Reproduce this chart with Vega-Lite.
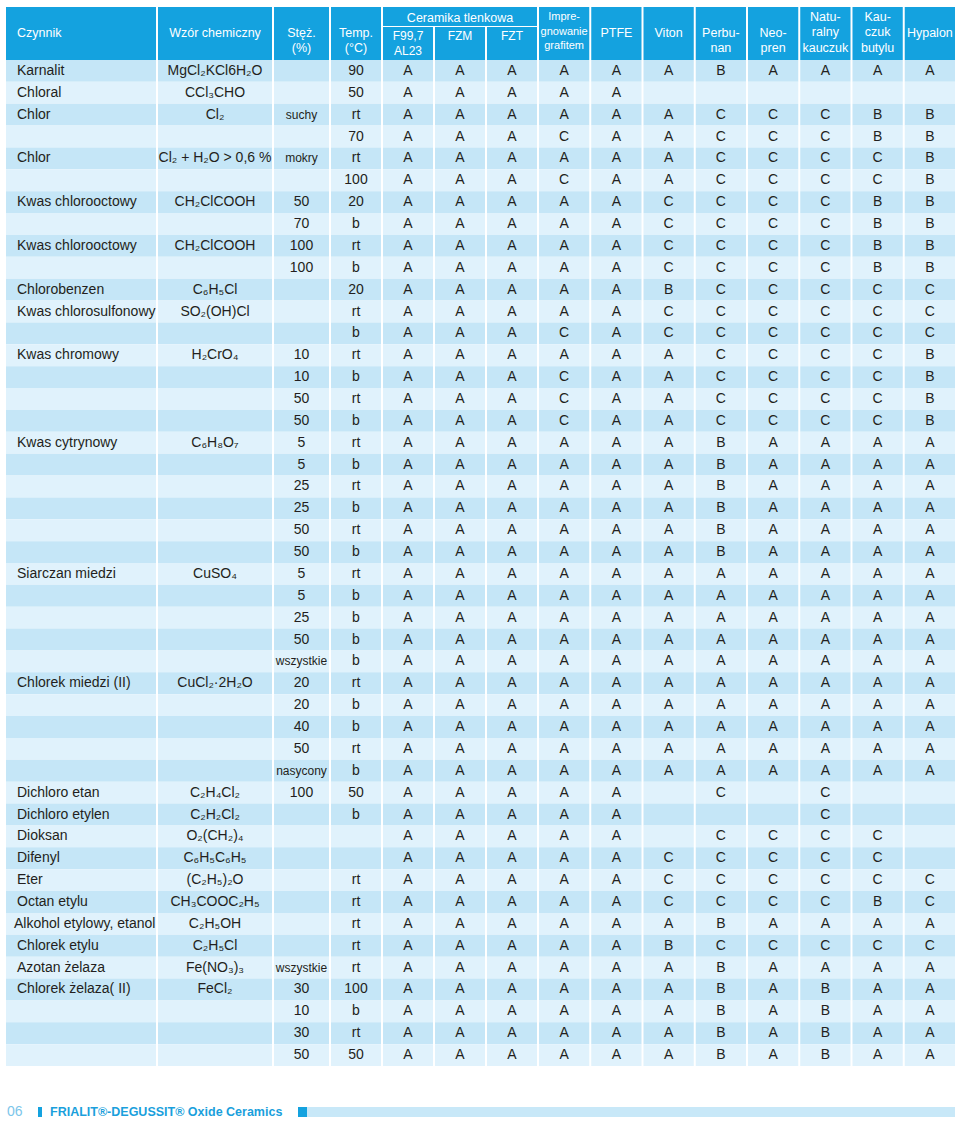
{
  "$schema": "https://vega.github.io/schema/vega-lite/v6.json",
  "background": "white",
  "padding": {"left": 6, "top": 7, "right": 0, "bottom": 0},
  "config": {"font": "Liberation Sans", "view": {"stroke": null}},
  "datasets": {
    "rows": [
      {"id":1,"c":"Karnalit","w":"MgCl₂KCl6H₂O","s":"","t":"90","f99":"A","fzm":"A","fzt":"A","impreg":"A","ptfe":"A","viton":"A","perbunan":"B","neopren":"A","naturalny":"A","kauczuk":"A","hypalon":"A"},
      {"id":2,"c":"Chloral","w":"CCl₃CHO","s":"","t":"50","f99":"A","fzm":"A","fzt":"A","impreg":"A","ptfe":"A","viton":"","perbunan":"","neopren":"","naturalny":"","kauczuk":"","hypalon":""},
      {"id":3,"c":"Chlor","w":"Cl₂","s":"suchy","t":"rt","f99":"A","fzm":"A","fzt":"A","impreg":"A","ptfe":"A","viton":"A","perbunan":"C","neopren":"C","naturalny":"C","kauczuk":"B","hypalon":"B"},
      {"id":4,"c":"","w":"","s":"","t":"70","f99":"A","fzm":"A","fzt":"A","impreg":"C","ptfe":"A","viton":"A","perbunan":"C","neopren":"C","naturalny":"C","kauczuk":"B","hypalon":"B"},
      {"id":5,"c":"Chlor","w":"Cl₂ + H₂O > 0,6 %","s":"mokry","t":"rt","f99":"A","fzm":"A","fzt":"A","impreg":"A","ptfe":"A","viton":"A","perbunan":"C","neopren":"C","naturalny":"C","kauczuk":"C","hypalon":"B"},
      {"id":6,"c":"","w":"","s":"","t":"100","f99":"A","fzm":"A","fzt":"A","impreg":"C","ptfe":"A","viton":"A","perbunan":"C","neopren":"C","naturalny":"C","kauczuk":"C","hypalon":"B"},
      {"id":7,"c":"Kwas chlorooctowy","w":"CH₂ClCOOH","s":"50","t":"20","f99":"A","fzm":"A","fzt":"A","impreg":"A","ptfe":"A","viton":"C","perbunan":"C","neopren":"C","naturalny":"C","kauczuk":"B","hypalon":"B"},
      {"id":8,"c":"","w":"","s":"70","t":"b","f99":"A","fzm":"A","fzt":"A","impreg":"A","ptfe":"A","viton":"C","perbunan":"C","neopren":"C","naturalny":"C","kauczuk":"B","hypalon":"B"},
      {"id":9,"c":"Kwas chlorooctowy","w":"CH₂ClCOOH","s":"100","t":"rt","f99":"A","fzm":"A","fzt":"A","impreg":"A","ptfe":"A","viton":"C","perbunan":"C","neopren":"C","naturalny":"C","kauczuk":"B","hypalon":"B"},
      {"id":10,"c":"","w":"","s":"100","t":"b","f99":"A","fzm":"A","fzt":"A","impreg":"A","ptfe":"A","viton":"C","perbunan":"C","neopren":"C","naturalny":"C","kauczuk":"B","hypalon":"B"},
      {"id":11,"c":"Chlorobenzen","w":"C₆H₅Cl","s":"","t":"20","f99":"A","fzm":"A","fzt":"A","impreg":"A","ptfe":"A","viton":"B","perbunan":"C","neopren":"C","naturalny":"C","kauczuk":"C","hypalon":"C"},
      {"id":12,"c":"Kwas chlorosulfonowy","w":"SO₂(OH)Cl","s":"","t":"rt","f99":"A","fzm":"A","fzt":"A","impreg":"A","ptfe":"A","viton":"C","perbunan":"C","neopren":"C","naturalny":"C","kauczuk":"C","hypalon":"C"},
      {"id":13,"c":"","w":"","s":"","t":"b","f99":"A","fzm":"A","fzt":"A","impreg":"C","ptfe":"A","viton":"C","perbunan":"C","neopren":"C","naturalny":"C","kauczuk":"C","hypalon":"C"},
      {"id":14,"c":"Kwas chromowy","w":"H₂CrO₄","s":"10","t":"rt","f99":"A","fzm":"A","fzt":"A","impreg":"A","ptfe":"A","viton":"A","perbunan":"C","neopren":"C","naturalny":"C","kauczuk":"C","hypalon":"B"},
      {"id":15,"c":"","w":"","s":"10","t":"b","f99":"A","fzm":"A","fzt":"A","impreg":"C","ptfe":"A","viton":"A","perbunan":"C","neopren":"C","naturalny":"C","kauczuk":"C","hypalon":"B"},
      {"id":16,"c":"","w":"","s":"50","t":"rt","f99":"A","fzm":"A","fzt":"A","impreg":"C","ptfe":"A","viton":"A","perbunan":"C","neopren":"C","naturalny":"C","kauczuk":"C","hypalon":"B"},
      {"id":17,"c":"","w":"","s":"50","t":"b","f99":"A","fzm":"A","fzt":"A","impreg":"C","ptfe":"A","viton":"A","perbunan":"C","neopren":"C","naturalny":"C","kauczuk":"C","hypalon":"B"},
      {"id":18,"c":"Kwas cytrynowy","w":"C₆H₈O₇","s":"5","t":"rt","f99":"A","fzm":"A","fzt":"A","impreg":"A","ptfe":"A","viton":"A","perbunan":"B","neopren":"A","naturalny":"A","kauczuk":"A","hypalon":"A"},
      {"id":19,"c":"","w":"","s":"5","t":"b","f99":"A","fzm":"A","fzt":"A","impreg":"A","ptfe":"A","viton":"A","perbunan":"B","neopren":"A","naturalny":"A","kauczuk":"A","hypalon":"A"},
      {"id":20,"c":"","w":"","s":"25","t":"rt","f99":"A","fzm":"A","fzt":"A","impreg":"A","ptfe":"A","viton":"A","perbunan":"B","neopren":"A","naturalny":"A","kauczuk":"A","hypalon":"A"},
      {"id":21,"c":"","w":"","s":"25","t":"b","f99":"A","fzm":"A","fzt":"A","impreg":"A","ptfe":"A","viton":"A","perbunan":"B","neopren":"A","naturalny":"A","kauczuk":"A","hypalon":"A"},
      {"id":22,"c":"","w":"","s":"50","t":"rt","f99":"A","fzm":"A","fzt":"A","impreg":"A","ptfe":"A","viton":"A","perbunan":"B","neopren":"A","naturalny":"A","kauczuk":"A","hypalon":"A"},
      {"id":23,"c":"","w":"","s":"50","t":"b","f99":"A","fzm":"A","fzt":"A","impreg":"A","ptfe":"A","viton":"A","perbunan":"B","neopren":"A","naturalny":"A","kauczuk":"A","hypalon":"A"},
      {"id":24,"c":"Siarczan miedzi","w":"CuSO₄","s":"5","t":"rt","f99":"A","fzm":"A","fzt":"A","impreg":"A","ptfe":"A","viton":"A","perbunan":"A","neopren":"A","naturalny":"A","kauczuk":"A","hypalon":"A"},
      {"id":25,"c":"","w":"","s":"5","t":"b","f99":"A","fzm":"A","fzt":"A","impreg":"A","ptfe":"A","viton":"A","perbunan":"A","neopren":"A","naturalny":"A","kauczuk":"A","hypalon":"A"},
      {"id":26,"c":"","w":"","s":"25","t":"b","f99":"A","fzm":"A","fzt":"A","impreg":"A","ptfe":"A","viton":"A","perbunan":"A","neopren":"A","naturalny":"A","kauczuk":"A","hypalon":"A"},
      {"id":27,"c":"","w":"","s":"50","t":"b","f99":"A","fzm":"A","fzt":"A","impreg":"A","ptfe":"A","viton":"A","perbunan":"A","neopren":"A","naturalny":"A","kauczuk":"A","hypalon":"A"},
      {"id":28,"c":"","w":"","s":"wszystkie","t":"b","f99":"A","fzm":"A","fzt":"A","impreg":"A","ptfe":"A","viton":"A","perbunan":"A","neopren":"A","naturalny":"A","kauczuk":"A","hypalon":"A"},
      {"id":29,"c":"Chlorek miedzi (II)","w":"CuCl₂·2H₂O","s":"20","t":"rt","f99":"A","fzm":"A","fzt":"A","impreg":"A","ptfe":"A","viton":"A","perbunan":"A","neopren":"A","naturalny":"A","kauczuk":"A","hypalon":"A"},
      {"id":30,"c":"","w":"","s":"20","t":"b","f99":"A","fzm":"A","fzt":"A","impreg":"A","ptfe":"A","viton":"A","perbunan":"A","neopren":"A","naturalny":"A","kauczuk":"A","hypalon":"A"},
      {"id":31,"c":"","w":"","s":"40","t":"b","f99":"A","fzm":"A","fzt":"A","impreg":"A","ptfe":"A","viton":"A","perbunan":"A","neopren":"A","naturalny":"A","kauczuk":"A","hypalon":"A"},
      {"id":32,"c":"","w":"","s":"50","t":"rt","f99":"A","fzm":"A","fzt":"A","impreg":"A","ptfe":"A","viton":"A","perbunan":"A","neopren":"A","naturalny":"A","kauczuk":"A","hypalon":"A"},
      {"id":33,"c":"","w":"","s":"nasycony","t":"b","f99":"A","fzm":"A","fzt":"A","impreg":"A","ptfe":"A","viton":"A","perbunan":"A","neopren":"A","naturalny":"A","kauczuk":"A","hypalon":"A"},
      {"id":34,"c":"Dichloro etan","w":"C₂H₄Cl₂","s":"100","t":"50","f99":"A","fzm":"A","fzt":"A","impreg":"A","ptfe":"A","viton":"","perbunan":"C","neopren":"","naturalny":"C","kauczuk":"","hypalon":""},
      {"id":35,"c":"Dichloro etylen","w":"C₂H₂Cl₂","s":"","t":"b","f99":"A","fzm":"A","fzt":"A","impreg":"A","ptfe":"A","viton":"","perbunan":"","neopren":"","naturalny":"C","kauczuk":"","hypalon":""},
      {"id":36,"c":"Dioksan","w":"O₂(CH₂)₄","s":"","t":"","f99":"A","fzm":"A","fzt":"A","impreg":"A","ptfe":"A","viton":"","perbunan":"C","neopren":"C","naturalny":"C","kauczuk":"C","hypalon":""},
      {"id":37,"c":"Difenyl","w":"C₆H₅C₆H₅","s":"","t":"","f99":"A","fzm":"A","fzt":"A","impreg":"A","ptfe":"A","viton":"C","perbunan":"C","neopren":"C","naturalny":"C","kauczuk":"C","hypalon":""},
      {"id":38,"c":"Eter","w":"(C₂H₅)₂O","s":"","t":"rt","f99":"A","fzm":"A","fzt":"A","impreg":"A","ptfe":"A","viton":"C","perbunan":"C","neopren":"C","naturalny":"C","kauczuk":"C","hypalon":"C"},
      {"id":39,"c":"Octan etylu","w":"CH₃COOC₂H₅","s":"","t":"rt","f99":"A","fzm":"A","fzt":"A","impreg":"A","ptfe":"A","viton":"C","perbunan":"C","neopren":"C","naturalny":"C","kauczuk":"B","hypalon":"C"},
      {"id":40,"c":"Alkohol etylowy, etanol","w":"C₂H₅OH","s":"","t":"rt","f99":"A","fzm":"A","fzt":"A","impreg":"A","ptfe":"A","viton":"A","perbunan":"B","neopren":"A","naturalny":"A","kauczuk":"A","hypalon":"A"},
      {"id":41,"c":"Chlorek etylu","w":"C₂H₅Cl","s":"","t":"rt","f99":"A","fzm":"A","fzt":"A","impreg":"A","ptfe":"A","viton":"B","perbunan":"C","neopren":"C","naturalny":"C","kauczuk":"C","hypalon":"C"},
      {"id":42,"c":"Azotan żelaza","w":"Fe(NO₃)₃","s":"wszystkie","t":"rt","f99":"A","fzm":"A","fzt":"A","impreg":"A","ptfe":"A","viton":"A","perbunan":"B","neopren":"A","naturalny":"A","kauczuk":"A","hypalon":"A"},
      {"id":43,"c":"Chlorek żelaza( II)","w":"FeCl₂","s":"30","t":"100","f99":"A","fzm":"A","fzt":"A","impreg":"A","ptfe":"A","viton":"A","perbunan":"B","neopren":"A","naturalny":"B","kauczuk":"A","hypalon":"A"},
      {"id":44,"c":"","w":"","s":"10","t":"b","f99":"A","fzm":"A","fzt":"A","impreg":"A","ptfe":"A","viton":"A","perbunan":"B","neopren":"A","naturalny":"B","kauczuk":"A","hypalon":"A"},
      {"id":45,"c":"","w":"","s":"30","t":"rt","f99":"A","fzm":"A","fzt":"A","impreg":"A","ptfe":"A","viton":"A","perbunan":"B","neopren":"A","naturalny":"B","kauczuk":"A","hypalon":"A"},
      {"id":46,"c":"","w":"","s":"50","t":"50","f99":"A","fzm":"A","fzt":"A","impreg":"A","ptfe":"A","viton":"A","perbunan":"B","neopren":"A","naturalny":"B","kauczuk":"A","hypalon":"A"}
    ]
  },
  "vconcat": [
    {
      "vconcat": [
        {
          "hconcat": [
            {
              "width": 150, "height": 53,
              "view": {"fill": "#14a2df", "stroke": null},
              "data": {"values": [{"label": "Czynnik"}]},
              "mark": {"type": "text", "align": "left", "baseline": "top", "dx": -64, "dy": -7, "fontSize": 12.5, "color": "white"},
              "encoding": {"text": {"field": "label", "type": "nominal"}}
            },
            {
              "width": 114, "height": 53,
              "view": {"fill": "#14a2df", "stroke": null},
              "data": {"values": [{"label": "Wzór chemiczny"}]},
              "mark": {"type": "text", "baseline": "top", "dy": -7, "fontSize": 12.5, "color": "white"},
              "encoding": {"text": {"field": "label", "type": "nominal"}}
            },
            {
              "width": 55, "height": 53,
              "view": {"fill": "#14a2df", "stroke": null},
              "data": {"values": [{"label": "Stęż.\n(%)"}]},
              "mark": {"type": "text", "baseline": "top", "dy": -7, "fontSize": 12.5, "lineBreak": "\n", "lineHeight": 15, "color": "white"},
              "encoding": {"text": {"field": "label", "type": "nominal"}}
            },
            {
              "width": 50, "height": 53,
              "view": {"fill": "#14a2df", "stroke": null},
              "data": {"values": [{"label": "Temp.\n(°C)"}]},
              "mark": {"type": "text", "baseline": "top", "dy": -7, "fontSize": 12.5, "lineBreak": "\n", "lineHeight": 15, "color": "white"},
              "encoding": {"text": {"field": "label", "type": "nominal"}}
            },
            {
              "vconcat": [
                {
                  "width": 154, "height": 19,
                  "view": {"fill": "#14a2df", "stroke": null},
                  "data": {"values": [{"label": "Ceramika tlenkowa"}]},
                  "mark": {"type": "text", "baseline": "middle", "dy": 1, "fontSize": 12.5, "color": "white"},
                  "encoding": {"text": {"field": "label", "type": "nominal"}}
                },
                {
                  "width": 154, "height": 33,
                  "data": {"values": [{"key": "f99", "label": "F99,7\nAL23"}, {"key": "fzm", "label": "FZM"}, {"key": "fzt", "label": "FZT"}]},
                  "encoding": {"x": {"field": "key", "type": "nominal", "axis": null, "scale": {"domain": ["f99", "fzm", "fzt"], "paddingInner": 0.038, "paddingOuter": 0}}},
                  "layer": [
                    {"mark": {"type": "rect", "color": "#14a2df"}, "encoding": {}},
                    {"mark": {"type": "text", "baseline": "top", "dy": -13, "fontSize": 12, "lineBreak": "\n", "lineHeight": 15, "color": "white"},
                     "encoding": {"text": {"field": "label", "type": "nominal"}}}
                  ]
                }
              ],
              "spacing": 1,
              "bounds": "flush"
            },
            {
              "width": 416, "height": 53,
              "data": {"values": [
                {"key": "impreg", "label": "Impre-\ngnowanie\ngrafitem"},
                {"key": "ptfe", "label": "PTFE"},
                {"key": "viton", "label": "Viton"},
                {"key": "perbunan", "label": "Perbu-\nnan"},
                {"key": "neopren", "label": "Neo-\npren"},
                {"key": "naturalny", "label": "Natu-\nralny\nkauczuk"},
                {"key": "kauczuk", "label": "Kau-\nczuk\nbutylu"},
                {"key": "hypalon", "label": "Hypalon"}
              ]},
              "encoding": {"x": {"field": "key", "type": "nominal", "axis": null, "scale": {"domain": ["impreg", "ptfe", "viton", "perbunan", "neopren", "naturalny", "kauczuk", "hypalon"], "paddingInner": 0.038, "paddingOuter": 0}}},
              "layer": [
                {"mark": {"type": "rect", "color": "#14a2df"}, "encoding": {}},
                {"transform": [{"filter": {"field": "key", "oneOf": ["ptfe", "viton", "perbunan", "neopren", "hypalon"]}}],
                 "mark": {"type": "text", "baseline": "top", "dy": -7, "fontSize": 12.5, "lineBreak": "\n", "lineHeight": 15, "color": "white"},
                 "encoding": {"text": {"field": "label", "type": "nominal"}}},
                {"transform": [{"filter": {"field": "key", "oneOf": ["naturalny", "kauczuk"]}}],
                 "mark": {"type": "text", "baseline": "top", "dy": -23, "fontSize": 12.5, "lineBreak": "\n", "lineHeight": 15.5, "color": "white"},
                 "encoding": {"text": {"field": "label", "type": "nominal"}}},
                {"transform": [{"filter": {"field": "key", "equal": "impreg"}}],
                 "mark": {"type": "text", "baseline": "top", "dy": -22.5, "fontSize": 11, "lineBreak": "\n", "lineHeight": 14.5, "color": "white"},
                 "encoding": {"text": {"field": "label", "type": "nominal"}}}
              ]
            }
          ],
          "spacing": 2,
          "bounds": "full"
        },
        {
          "hconcat": [
            {
              "width": 150, "height": 1006,
              "data": {"name": "rows"},
              "encoding": {"y": {"field": "id", "type": "ordinal", "axis": null, "scale": {"paddingInner": 0, "paddingOuter": 0}}},
              "layer": [
                {"mark": {"type": "rect"}, "encoding": {"fill": {"condition": {"test": "datum.id % 2 === 1", "value": "#c5e6f7"}, "value": "#e0f2fc"}}},
                {"transform": [{"filter": "length(datum.c) <= 20"}],
                 "mark": {"type": "text", "align": "left", "baseline": "middle", "dx": -64, "fontSize": 14, "color": "#231f20"}, "encoding": {"text": {"field": "c", "type": "nominal"}}},
                {"transform": [{"filter": "length(datum.c) > 20"}],
                 "mark": {"type": "text", "align": "left", "baseline": "middle", "dx": -67, "fontSize": 14, "color": "#231f20"}, "encoding": {"text": {"field": "c", "type": "nominal"}}}
              ]
            },
            {
              "width": 114, "height": 1006,
              "data": {"name": "rows"},
              "encoding": {"y": {"field": "id", "type": "ordinal", "axis": null, "scale": {"paddingInner": 0, "paddingOuter": 0}}},
              "layer": [
                {"mark": {"type": "rect"}, "encoding": {"fill": {"condition": {"test": "datum.id % 2 === 1", "value": "#c5e6f7"}, "value": "#e0f2fc"}}},
                {"mark": {"type": "text", "baseline": "middle", "fontSize": 14, "color": "#231f20"}, "encoding": {"text": {"field": "w", "type": "nominal"}}}
              ]
            },
            {
              "width": 55, "height": 1006,
              "data": {"name": "rows"},
              "encoding": {"y": {"field": "id", "type": "ordinal", "axis": null, "scale": {"paddingInner": 0, "paddingOuter": 0}}},
              "layer": [
                {"mark": {"type": "rect"}, "encoding": {"fill": {"condition": {"test": "datum.id % 2 === 1", "value": "#c5e6f7"}, "value": "#e0f2fc"}}},
                {"mark": {"type": "text", "baseline": "middle", "color": "#231f20"}, "encoding": {"text": {"field": "s", "type": "nominal"}, "size": {"condition": {"test": "length(datum.s) > 3", "value": 12}, "value": 14}}}
              ]
            },
            {
              "width": 50, "height": 1006,
              "data": {"name": "rows"},
              "encoding": {"y": {"field": "id", "type": "ordinal", "axis": null, "scale": {"paddingInner": 0, "paddingOuter": 0}}},
              "layer": [
                {"mark": {"type": "rect"}, "encoding": {"fill": {"condition": {"test": "datum.id % 2 === 1", "value": "#c5e6f7"}, "value": "#e0f2fc"}}},
                {"mark": {"type": "text", "baseline": "middle", "fontSize": 14, "color": "#231f20"}, "encoding": {"text": {"field": "t", "type": "nominal"}}}
              ]
            },
            {
              "width": 154, "height": 1006,
              "data": {"name": "rows"},
              "transform": [{"fold": ["f99", "fzm", "fzt"], "as": ["key", "val"]}],
              "encoding": {
                "x": {"field": "key", "type": "nominal", "axis": null, "scale": {"domain": ["f99", "fzm", "fzt"], "paddingInner": 0.038, "paddingOuter": 0}},
                "y": {"field": "id", "type": "ordinal", "axis": null, "scale": {"paddingInner": 0, "paddingOuter": 0}}
              },
              "layer": [
                {"mark": {"type": "rect"}, "encoding": {"fill": {"condition": {"test": "datum.id % 2 === 1", "value": "#c5e6f7"}, "value": "#e0f2fc"}}},
                {"mark": {"type": "text", "baseline": "middle", "fontSize": 14, "color": "#231f20"}, "encoding": {"text": {"field": "val", "type": "nominal"}}}
              ]
            },
            {
              "width": 416, "height": 1006,
              "data": {"name": "rows"},
              "transform": [{"fold": ["impreg", "ptfe", "viton", "perbunan", "neopren", "naturalny", "kauczuk", "hypalon"], "as": ["key", "val"]}],
              "encoding": {
                "x": {"field": "key", "type": "nominal", "axis": null, "scale": {"domain": ["impreg", "ptfe", "viton", "perbunan", "neopren", "naturalny", "kauczuk", "hypalon"], "paddingInner": 0.038, "paddingOuter": 0}},
                "y": {"field": "id", "type": "ordinal", "axis": null, "scale": {"paddingInner": 0, "paddingOuter": 0}}
              },
              "layer": [
                {"mark": {"type": "rect"}, "encoding": {"fill": {"condition": {"test": "datum.id % 2 === 1", "value": "#c5e6f7"}, "value": "#e0f2fc"}}},
                {"mark": {"type": "text", "baseline": "middle", "fontSize": 14, "color": "#231f20"}, "encoding": {"text": {"field": "val", "type": "nominal"}}}
              ]
            }
          ],
          "spacing": 2,
          "bounds": "flush"
        }
      ],
      "spacing": 0,
      "bounds": "full"
    },
    {
      "hconcat": [
        {
          "width": 32, "height": 10,
          "data": {"values": [{"label": "06"}]},
          "mark": {"type": "text", "align": "left", "baseline": "middle", "dx": -15, "fontSize": 14, "color": "#7cc6ea"},
          "encoding": {"text": {"field": "label", "type": "nominal"}}
        },
        {
          "width": 4, "height": 10,
          "data": {"values": [{"part": "marker"}]},
          "mark": {"type": "rect", "color": "#14a2df"},
          "encoding": {}
        },
        {
          "width": 256, "height": 10,
          "data": {"values": [{"label": "FRIALIT®-DEGUSSIT® Oxide Ceramics"}]},
          "mark": {"type": "text", "align": "left", "baseline": "middle", "dx": -120, "fontSize": 12.5, "fontWeight": "bold", "color": "#1a9fdc"},
          "encoding": {"text": {"field": "label", "type": "nominal"}}
        },
        {
          "width": 9, "height": 10,
          "data": {"values": [{"part": "square"}]},
          "mark": {"type": "rect", "color": "#14a2df"},
          "encoding": {}
        },
        {
          "width": 648, "height": 10,
          "data": {"values": [{"part": "bar"}]},
          "mark": {"type": "rect", "color": "#c8e8f8"},
          "encoding": {}
        }
      ],
      "spacing": 0,
      "bounds": "flush"
    }
  ],
  "spacing": 39,
  "bounds": "full"
}
